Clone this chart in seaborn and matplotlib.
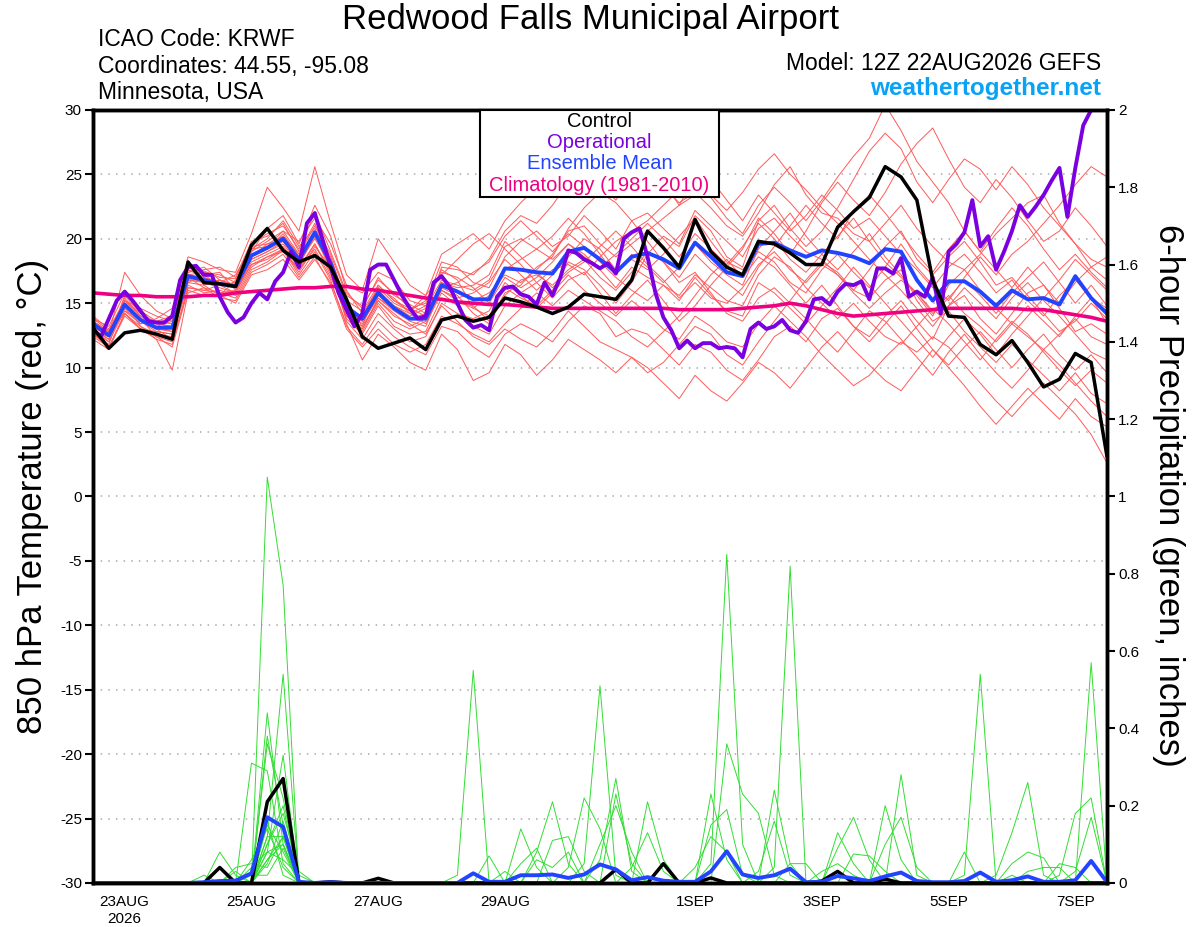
import pandas as pd
import numpy as np
import matplotlib
matplotlib.use("Agg")
import matplotlib.pyplot as plt
import seaborn as sns

# Run info
run_start = "2026-08-22 12:00"
tick_days = ["2026-08-23", "2026-08-25", "2026-08-27", "2026-08-29",
             "2026-09-01", "2026-09-03", "2026-09-05", "2026-09-07"]
tick_labels = ["23AUG\n2026", "25AUG", "27AUG", "29AUG", "1SEP", "3SEP", "5SEP", "7SEP"]
temp_ticks = [30, 25, 20, 15, 10, 5, 0, -5, -10, -15, -20, -25, -30]
precip_ticks = [0, 0.2, 0.4, 0.6, 0.8, 1.0, 1.2, 1.4, 1.6, 1.8, 2.0]
precip_tick_labels = ["0", "0.2", "0.4", "0.6", "0.8", "1", "1.2", "1.4", "1.6", "1.8", "2"]

# 850 hPa temperature (6-hourly)
control_t = [13.1, 11.5, 12.7, 12.9, 12.6, 12.2, 18.2, 16.6, 16.5, 16.3, 19.5, 20.8, 19.1,
             18.2, 18.7, 17.8, 15.3, 12.4, 11.5, 11.9, 12.3, 11.4, 13.7, 14.0, 13.6, 13.9,
             15.4, 15.1, 14.7, 14.2, 14.7, 15.7, 15.5, 15.3, 16.8, 20.6, 19.3, 17.8, 21.5,
             19.0, 17.8, 17.2, 19.8, 19.6, 18.9, 18.0, 18.0, 20.9, 22.1, 23.2, 25.6, 24.8,
             23.0, 16.8, 14.0, 13.9, 11.8, 11.0, 12.1, 10.4, 8.5, 9.1, 11.1, 10.4, 3.1]
mean_t = [13.4, 12.5, 14.9, 13.7, 13.1, 13.1, 17.1, 16.8, 16.5, 16.3, 18.7, 19.3, 20.0,
          18.4, 20.5, 18.1, 14.7, 13.8, 15.8, 14.6, 13.8, 13.8, 16.4, 15.9, 15.3, 15.3,
          17.7, 17.6, 17.4, 17.3, 19.0, 19.3, 18.4, 17.4, 18.6, 18.9, 18.4, 17.7, 19.7,
          18.6, 17.4, 17.1, 19.6, 19.7, 19.1, 18.6, 19.1, 18.9, 18.6, 18.1, 19.2, 19.0,
          16.8, 15.2, 16.7, 16.7, 15.9, 14.8, 16.0, 15.3, 15.4, 14.9, 17.1, 15.4, 14.2]
clim_t = [15.8, 15.7, 15.6, 15.6, 15.5, 15.5, 15.5, 15.6, 15.6, 15.8, 15.9, 16.0, 16.1,
          16.2, 16.2, 16.3, 16.3, 16.1, 16.0, 15.8, 15.6, 15.4, 15.3, 15.1, 15.0, 14.9,
          14.9, 14.8, 14.7, 14.6, 14.6, 14.6, 14.6, 14.6, 14.6, 14.6, 14.6, 14.5, 14.5,
          14.5, 14.5, 14.6, 14.7, 14.8, 15.0, 14.8, 14.5, 14.2, 14.0, 14.1, 14.2, 14.3,
          14.4, 14.5, 14.6, 14.6, 14.6, 14.6, 14.6, 14.5, 14.5, 14.3, 14.1, 13.9, 13.6]

# Operational run (3-hourly)
oper_t = [12.9, 12.4, 13.8, 15.2, 15.9, 15.2, 14.4, 13.6, 13.5, 13.5,
          14.0, 16.8, 17.8, 17.9, 17.2, 17.2, 15.5, 14.3, 13.5, 13.9,
          15.0, 15.8, 15.3, 16.7, 17.4, 19.0, 17.8, 21.2, 22.0, 19.9,
          17.8, 15.8, 14.5, 13.2, 14.2, 17.6, 18.0, 18.0, 16.8, 15.6,
          14.6, 13.8, 14.0, 16.6, 17.1, 16.3, 15.0, 13.7, 13.1, 13.3,
          12.9, 15.5, 16.2, 16.3, 15.7, 15.5, 14.9, 16.6, 15.6, 17.0,
          19.1, 18.9, 18.4, 18.1, 17.7, 18.1, 17.3, 20.0, 20.5, 20.8,
          18.6, 15.8, 13.9, 12.9, 11.5, 12.1, 11.5, 11.9, 11.9, 11.5,
          11.6, 11.5, 10.8, 13.0, 13.5, 13.0, 13.2, 13.7, 12.9, 12.7,
          13.6, 15.3, 15.4, 14.9, 15.9, 16.5, 16.4, 16.7, 15.3, 17.7,
          17.7, 17.3, 18.5, 15.5, 15.9, 15.5, 17.0, 14.2, 19.0, 19.6,
          20.5, 23.0, 19.4, 20.2, 17.6, 19.0, 20.6, 22.6, 21.7, 22.5,
          23.4, 24.5, 25.5, 21.7, 25.5, 28.8, 30.0, 31.0, 32.0]

# Ensemble members, temperature
t01 = [13.0, 12.2, 15.6, 14.2, 13.5, 13.8, 17.8, 17.5, 17.0, 16.9, 19.6, 20.4, 21.0,
       19.2, 22.0, 19.0, 15.8, 14.6, 17.0, 15.6, 14.9, 14.2, 17.8, 17.6, 17.2, 18.4,
       20.6, 21.8, 21.2, 22.6, 24.4, 25.0, 24.2, 23.0, 24.8, 25.6, 24.0, 22.8, 23.6,
       22.4, 21.0, 20.2, 22.0, 24.2, 25.6, 23.4, 22.0, 21.6, 20.4, 19.8, 21.2, 22.6,
       20.8, 19.4, 18.2, 17.6, 18.8, 20.4, 21.6, 22.8, 23.4, 21.2, 19.6, 18.4, 17.8]
t02 = [13.8, 12.9, 14.2, 13.0, 12.4, 12.0, 16.2, 16.0, 15.8, 15.4, 17.6, 18.2, 19.1,
       17.2, 19.0, 16.8, 13.2, 11.8, 13.6, 12.4, 11.6, 11.0, 13.2, 12.8, 11.6, 10.8,
       12.6, 13.4, 12.8, 12.0, 13.6, 14.8, 14.2, 12.4, 13.0, 12.6, 11.4, 10.2, 11.8,
       11.2, 9.8, 9.0, 10.6, 12.4, 13.2, 12.0, 13.8, 14.6, 13.2, 12.4, 14.0, 15.2,
       13.6, 12.2, 14.8, 15.6, 13.8, 12.6, 14.2, 15.8, 16.4, 14.6, 12.8, 13.4, 12.6]
t03 = [12.6, 11.8, 15.2, 14.6, 14.0, 13.6, 18.0, 16.4, 15.6, 16.8, 19.0, 19.8, 20.6,
       19.8, 21.6, 19.6, 16.4, 15.8, 17.4, 16.8, 15.2, 14.8, 17.6, 16.8, 14.6, 14.0,
       16.2, 15.4, 14.8, 16.0, 18.2, 17.6, 16.4, 15.0, 16.6, 18.8, 20.2, 19.4, 21.8,
       20.6, 18.6, 17.8, 21.4, 22.6, 20.8, 19.4, 20.6, 22.4, 24.6, 26.8, 28.2, 27.0,
       24.4, 22.8, 24.6, 26.2, 25.4, 23.8, 25.6, 24.2, 22.4, 21.0, 19.6, 17.8, 18.6]
t04 = [13.6, 12.8, 15.0, 13.2, 12.6, 12.4, 16.6, 17.2, 17.4, 16.0, 18.2, 18.8, 19.4,
       17.8, 19.6, 17.4, 13.8, 12.6, 14.8, 13.2, 12.6, 12.8, 15.4, 15.0, 14.8, 13.6,
       15.8, 16.4, 17.8, 18.6, 20.8, 22.4, 23.6, 22.8, 21.4, 19.8, 18.2, 16.6, 17.4,
       15.8, 14.2, 13.6, 15.4, 16.2, 15.0, 13.8, 12.4, 11.2, 12.8, 14.4, 13.6, 12.2,
       10.8, 9.4, 11.2, 12.6, 11.0, 9.6, 8.4, 9.8, 11.4, 10.2, 8.8, 7.4, 6.2]
t05 = [12.8, 12.0, 14.4, 13.4, 13.8, 14.6, 17.4, 17.8, 16.8, 16.4, 19.2, 20.0, 21.4,
       19.4, 20.8, 18.6, 15.0, 13.2, 16.4, 15.2, 14.4, 15.6, 17.2, 18.4, 19.6, 20.4,
       19.2, 18.0, 16.6, 15.4, 16.8, 17.4, 15.8, 14.2, 15.6, 16.8, 15.2, 13.6, 14.8,
       16.4, 17.8, 19.2, 21.6, 20.4, 18.8, 20.6, 22.8, 24.4, 23.0, 21.8, 23.6, 25.8,
       27.4, 28.6, 26.2, 24.0, 22.8, 24.6, 23.2, 21.4, 19.8, 20.6, 22.4, 21.0, 19.4]
t06 = [13.2, 12.4, 14.6, 13.8, 13.2, 12.8, 16.8, 16.6, 16.2, 15.8, 18.4, 19.0, 19.6,
       18.0, 20.2, 17.6, 14.2, 13.0, 15.2, 14.0, 13.4, 12.6, 14.8, 13.6, 12.4, 11.8,
       13.0, 12.2, 11.6, 12.8, 14.4, 13.2, 12.0, 11.4, 10.8, 9.6, 10.4, 11.8, 13.2,
       12.6, 11.0, 10.2, 12.0, 13.6, 15.2, 16.8, 18.2, 17.4, 16.0, 17.6, 19.4, 20.6,
       18.4, 17.2, 18.6, 19.8, 18.2, 16.4, 17.0, 15.6, 14.2, 12.8, 13.6, 15.0, 13.8]
t07 = [13.4, 12.6, 15.4, 14.0, 13.4, 13.2, 17.6, 17.0, 16.6, 17.2, 19.4, 19.6, 20.2,
       18.8, 21.0, 18.8, 15.6, 14.8, 16.8, 15.8, 14.6, 15.0, 18.2, 17.8, 16.6, 16.2,
       18.6, 19.8, 20.6, 19.4, 20.2, 21.8, 20.6, 19.2, 21.4, 22.0, 20.8, 19.6, 22.2,
       21.0, 19.8, 18.6, 20.8, 21.6, 20.2, 19.0, 18.4, 17.2, 16.0, 15.4, 16.8, 17.6,
       15.2, 13.6, 14.4, 12.8, 11.6, 10.4, 11.8, 10.6, 9.4, 8.2, 9.6, 8.0, 7.2]
t08 = [12.4, 11.6, 14.0, 13.0, 12.8, 12.6, 16.4, 15.8, 16.0, 15.6, 17.8, 18.6, 19.0,
       17.6, 19.2, 17.0, 14.4, 13.4, 15.6, 14.8, 14.0, 14.6, 16.8, 16.4, 16.0, 16.8,
       19.4, 20.0, 19.2, 18.4, 19.6, 18.8, 17.6, 16.2, 17.8, 17.0, 16.4, 15.2, 17.0,
       15.6, 14.4, 14.0, 16.6, 15.8, 14.6, 13.4, 14.8, 16.2, 17.8, 16.4, 15.0, 13.6,
       12.2, 10.8, 12.4, 13.8, 12.6, 11.0, 12.6, 14.0, 15.4, 16.8, 18.4, 17.2, 16.0]
t09 = [13.8, 13.2, 15.8, 14.4, 13.6, 13.4, 17.2, 17.4, 17.2, 16.6, 19.0, 20.8, 21.8,
       19.6, 22.6, 20.2, 16.0, 14.2, 16.2, 15.4, 14.2, 13.4, 15.8, 14.8, 13.2, 12.6,
       14.8, 15.8, 16.6, 17.6, 18.0, 17.2, 18.6, 19.8, 20.6, 21.4, 22.6, 23.8, 24.6,
       23.4, 22.2, 23.6, 25.4, 26.6, 25.0, 23.8, 22.4, 21.2, 19.8, 18.4, 17.2, 16.0,
       14.6, 13.2, 14.8, 16.2, 15.0, 13.8, 15.4, 16.6, 15.2, 14.0, 12.6, 11.2, 10.6]
t10 = [13.0, 12.2, 14.8, 13.6, 12.8, 12.6, 16.6, 16.4, 16.8, 16.2, 18.8, 19.2, 20.4,
       18.6, 20.6, 18.2, 14.6, 12.8, 15.0, 13.6, 13.0, 13.6, 16.0, 15.4, 15.8, 16.6,
       18.4, 17.2, 16.0, 17.2, 18.6, 20.0, 19.2, 17.6, 18.4, 17.6, 18.8, 20.2, 21.6,
       19.8, 18.2, 17.6, 19.0, 18.2, 16.6, 15.8, 17.6, 18.8, 17.4, 16.2, 17.8, 19.6,
       17.8, 16.4, 15.2, 17.0, 18.6, 17.2, 18.8, 19.8, 21.2, 22.6, 24.2, 25.6, 24.8]
t11 = [14.0, 13.0, 15.2, 14.0, 13.0, 12.2, 17.0, 16.2, 15.8, 16.0, 18.0, 18.4, 19.2,
       17.4, 19.4, 17.8, 13.6, 12.2, 14.2, 13.0, 12.0, 12.4, 15.0, 14.2, 13.8, 14.4,
       16.6, 15.6, 14.6, 15.8, 17.2, 16.0, 15.0, 14.0, 15.2, 14.2, 13.0, 12.2, 14.0,
       13.2, 12.0, 11.6, 13.4, 14.8, 13.6, 12.4, 11.0, 9.8, 8.6, 9.4, 10.8, 12.0,
       11.2, 12.4, 11.6, 10.2, 8.8, 7.4, 6.2, 7.6, 8.8, 7.6, 6.4, 4.8, 2.6]
t12 = [13.6, 12.8, 14.6, 13.4, 13.6, 14.0, 17.6, 17.2, 16.4, 16.6, 19.2, 19.4, 20.6,
       18.8, 20.4, 18.4, 15.2, 14.4, 16.4, 15.2, 14.6, 14.0, 16.6, 16.0, 15.2, 15.8,
       17.2, 16.6, 17.6, 18.8, 20.6, 21.0, 19.6, 18.6, 19.6, 20.6, 21.6, 22.6, 23.4,
       24.6, 23.0, 21.4, 23.4, 22.0, 20.6, 21.8, 23.4, 22.2, 20.8, 21.6, 20.2, 18.8,
       17.6, 16.2, 17.8, 18.8, 17.4, 15.8, 16.8, 15.2, 14.0, 15.6, 16.8, 15.4, 14.6]
t13 = [12.2, 11.4, 14.2, 13.2, 12.2, 9.8, 15.8, 16.2, 15.4, 15.2, 17.4, 18.0, 18.8,
       17.0, 18.6, 16.4, 13.0, 11.6, 13.0, 11.8, 11.2, 11.8, 14.0, 13.4, 12.6, 12.0,
       13.4, 14.6, 15.8, 14.8, 16.0, 15.2, 14.4, 13.6, 12.4, 11.6, 12.8, 14.0, 15.6,
       17.2, 18.4, 17.0, 18.6, 17.8, 16.4, 15.0, 16.4, 14.8, 13.2, 12.0, 13.4, 14.8,
       13.0, 11.4, 10.2, 11.6, 12.8, 11.4, 10.0, 11.4, 12.6, 11.0, 9.8, 11.0, 9.6]
t14 = [13.2, 12.6, 17.4, 15.6, 14.4, 13.8, 18.6, 18.2, 17.6, 17.4, 20.4, 24.0, 22.4,
       20.6, 25.6, 21.2, 17.2, 16.0, 20.0, 18.2, 16.4, 15.6, 18.8, 19.6, 20.4, 19.2,
       21.4, 22.8, 24.0, 24.8, 26.2, 27.4, 28.6, 29.4, 27.6, 26.0, 24.4, 22.6, 24.8,
       23.2, 21.6, 20.4, 22.6, 24.0, 22.8, 21.4, 23.0, 24.8, 26.4, 27.8, 30.4, 28.4,
       26.0, 24.4, 22.8, 20.6, 19.0, 20.8, 22.4, 21.0, 19.2, 17.6, 18.8, 17.4, 16.2]
t15 = [12.8, 12.4, 14.4, 13.8, 12.4, 11.6, 16.0, 15.6, 15.6, 15.0, 17.2, 17.6, 18.4,
       16.8, 18.4, 16.6, 13.4, 10.6, 12.6, 11.6, 10.4, 9.8, 12.6, 11.4, 9.0, 9.6,
       11.8, 11.0, 9.4, 10.6, 12.2, 11.4, 10.6, 9.6, 10.8, 10.0, 8.8, 7.6, 9.4,
       8.2, 7.4, 8.8, 10.4, 9.6, 8.4, 10.0, 11.6, 12.8, 11.4, 10.2, 9.0, 8.2,
       9.8, 11.4, 10.0, 8.6, 7.0, 5.6, 7.0, 8.4, 7.2, 6.0, 7.6, 6.2, 5.4]
t16 = [13.6, 12.6, 15.0, 13.6, 13.0, 12.8, 17.4, 17.6, 17.8, 17.0, 19.8, 20.2, 21.2,
       19.0, 21.2, 18.2, 14.8, 13.6, 15.4, 14.4, 13.6, 13.2, 16.2, 15.6, 14.2, 13.4,
       15.6, 16.8, 17.2, 16.4, 17.6, 18.4, 17.0, 16.0, 17.4, 19.0, 18.2, 17.0, 18.8,
       17.6, 16.6, 15.6, 17.8, 19.4, 21.0, 22.6, 21.2, 20.0, 22.2, 23.4, 22.0, 20.4,
       18.8, 17.4, 19.2, 20.6, 19.0, 17.6, 16.2, 17.8, 16.4, 15.0, 16.6, 17.8, 16.8]
t17 = [13.0, 12.0, 14.8, 13.6, 13.2, 13.6, 16.8, 16.8, 16.4, 16.6, 18.6, 19.6, 19.8,
       18.2, 20.0, 18.0, 14.0, 13.0, 15.4, 14.6, 13.8, 14.2, 16.6, 16.2, 16.4, 17.2,
       19.8, 18.6, 17.4, 16.2, 17.4, 18.2, 19.4, 20.6, 19.4, 18.0, 16.8, 15.4, 16.6,
       15.4, 15.0, 16.2, 18.0, 19.0, 17.6, 16.6, 18.0, 17.2, 15.8, 14.6, 15.8, 16.8,
       15.8, 14.4, 15.6, 14.2, 13.2, 12.0, 13.4, 12.4, 11.4, 12.6, 13.8, 12.4, 11.8]
t18 = [13.4, 12.8, 15.2, 14.2, 13.4, 13.2, 17.0, 16.6, 16.8, 16.4, 18.4, 19.0, 19.8,
       18.0, 20.2, 18.4, 14.4, 13.6, 16.0, 14.8, 14.2, 14.8, 16.0, 15.2, 14.6, 15.6,
       17.6, 18.4, 19.2, 20.2, 21.6, 20.4, 18.8, 17.2, 18.8, 17.8, 16.6, 17.8, 19.6,
       18.2, 17.2, 16.4, 19.2, 20.6, 22.0, 20.2, 18.8, 17.6, 19.0, 20.4, 18.6, 17.2,
       15.6, 14.0, 16.4, 17.6, 16.0, 14.6, 13.4, 14.8, 13.6, 12.4, 14.0, 15.4, 13.4]
t19 = [12.6, 11.6, 14.2, 13.0, 12.2, 11.8, 16.2, 16.0, 16.4, 15.8, 18.0, 18.6, 19.2,
       17.6, 19.6, 17.2, 14.0, 13.2, 15.2, 14.2, 13.2, 13.8, 16.2, 16.6, 17.4, 18.2,
       20.2, 21.4, 20.2, 19.0, 20.4, 19.4, 18.2, 17.0, 16.0, 15.2, 16.4, 15.6, 17.2,
       16.2, 15.2, 14.8, 17.2, 18.6, 17.8, 16.2, 15.0, 13.8, 15.0, 13.6, 12.4, 11.8,
       13.2, 14.6, 13.4, 12.0, 10.6, 12.2, 13.6, 12.6, 11.2, 9.8, 8.6, 9.8, 8.8]
t20 = [13.2, 12.4, 15.0, 13.8, 13.0, 13.0, 17.2, 17.0, 16.6, 16.2, 18.6, 19.2, 20.2,
       18.4, 20.6, 18.0, 14.6, 14.0, 16.2, 15.0, 14.4, 15.2, 17.4, 17.0, 16.2, 15.0,
       17.0, 16.2, 17.0, 18.2, 19.6, 18.6, 17.8, 18.8, 20.0, 21.2, 20.0, 18.6, 20.4,
       19.2, 18.0, 19.4, 21.2, 20.0, 18.4, 17.4, 18.8, 20.2, 21.6, 19.8, 18.2, 17.0,
       15.8, 14.2, 15.4, 16.8, 15.6, 14.2, 15.8, 17.0, 18.2, 16.6, 15.0, 16.4, 14.8]

# 6-hour precipitation (inches)
control_p = [0, 0, 0, 0, 0, 0, 0, 0, 0.04, 0, 0, 0.21, 0.27,
             0, 0, 0.003, 0, 0, 0.012, 0, 0, 0, 0, 0, 0, 0,
             0, 0, 0, 0, 0, 0, 0, 0.035, 0, 0, 0.05, 0, 0,
             0.013, 0, 0, 0, 0, 0, 0, 0.005, 0.03, 0, 0, 0.01, 0,
             0, 0, 0, 0, 0, 0, 0, 0, 0, 0, 0, 0, 0]
mean_p = [0, 0, 0, 0, 0, 0, 0, 0.002, 0.005, 0.006, 0.025, 0.17, 0.145,
          0.003, 0, 0.002, 0, 0, 0, 0, 0, 0, 0, 0, 0.025, 0.003,
          0.003, 0.02, 0.02, 0.022, 0.013, 0.022, 0.048, 0.035, 0.007, 0.015, 0.006, 0.003, 0.003,
          0.03, 0.082, 0.022, 0.013, 0.02, 0.037, 0.002, 0.003, 0.018, 0.012, 0.005, 0.017, 0.027,
          0.005, 0.002, 0.002, 0.005, 0.027, 0.003, 0.007, 0.017, 0.003, 0.003, 0.007, 0.057, 0.002]

p01 = [0, 0, 0, 0, 0, 0, 0, 0, 0, 0, 0, 1.05, 0.77,
       0, 0, 0, 0, 0, 0, 0, 0, 0, 0, 0, 0, 0,
       0, 0, 0, 0, 0, 0, 0, 0, 0, 0, 0, 0, 0,
       0.05, 0.85, 0.10, 0, 0, 0, 0, 0, 0, 0, 0, 0, 0,
       0, 0, 0, 0, 0, 0, 0, 0, 0, 0, 0, 0.57, 0]
p02 = [0, 0, 0, 0, 0, 0, 0, 0, 0, 0, 0, 0.12, 0.54,
       0, 0, 0, 0, 0, 0, 0, 0, 0, 0, 0, 0, 0,
       0, 0.14, 0.04, 0, 0, 0, 0, 0, 0, 0, 0, 0, 0,
       0.23, 0.06, 0, 0, 0, 0, 0, 0, 0, 0, 0, 0, 0,
       0, 0, 0, 0, 0, 0, 0, 0, 0, 0, 0.03, 0.17, 0]
p03 = [0, 0, 0, 0, 0, 0, 0, 0, 0, 0, 0, 0.44, 0.10,
       0, 0, 0, 0, 0, 0, 0, 0, 0, 0, 0.02, 0.55, 0,
       0, 0, 0, 0, 0, 0, 0, 0, 0, 0, 0, 0, 0,
       0.15, 0.19, 0.02, 0, 0, 0, 0, 0, 0, 0, 0, 0, 0,
       0, 0, 0, 0, 0, 0, 0, 0, 0, 0, 0, 0, 0]
p04 = [0, 0, 0, 0, 0, 0, 0, 0, 0, 0, 0.31, 0.29, 0.05,
       0, 0, 0, 0, 0, 0, 0, 0, 0, 0, 0, 0, 0,
       0, 0, 0.08, 0.21, 0.05, 0, 0, 0, 0, 0, 0, 0, 0,
       0, 0, 0, 0, 0, 0, 0, 0, 0, 0, 0, 0, 0,
       0, 0, 0, 0, 0, 0, 0.02, 0, 0, 0.05, 0.04, 0, 0]
p05 = [0, 0, 0, 0, 0, 0, 0, 0, 0, 0, 0, 0.08, 0.33,
       0, 0, 0, 0, 0, 0, 0, 0, 0, 0, 0, 0, 0,
       0.03, 0, 0, 0, 0, 0, 0, 0, 0, 0, 0, 0, 0,
       0, 0.36, 0.23, 0.18, 0.02, 0, 0, 0, 0, 0, 0, 0, 0,
       0, 0, 0, 0, 0, 0, 0, 0, 0, 0, 0, 0, 0]
p06 = [0, 0, 0, 0, 0, 0, 0, 0, 0, 0, 0, 0.38, 0.15,
       0, 0, 0, 0, 0, 0, 0, 0, 0, 0, 0, 0, 0,
       0, 0, 0, 0.11, 0.12, 0.03, 0, 0, 0, 0, 0, 0, 0,
       0, 0, 0, 0, 0, 0, 0, 0, 0.13, 0.05, 0, 0, 0,
       0, 0, 0, 0, 0, 0, 0, 0, 0, 0, 0, 0, 0]
p07 = [0, 0, 0, 0, 0, 0, 0, 0, 0, 0, 0, 0.36, 0.22,
       0, 0, 0, 0, 0, 0, 0, 0, 0, 0, 0, 0, 0,
       0, 0, 0, 0, 0.04, 0.22, 0.14, 0, 0, 0, 0, 0, 0,
       0, 0, 0, 0, 0, 0, 0, 0, 0.09, 0.17, 0.06, 0, 0,
       0, 0, 0, 0, 0, 0, 0, 0, 0, 0, 0, 0, 0]
p08 = [0, 0, 0, 0, 0, 0, 0, 0, 0.08, 0.02, 0, 0.12, 0.12,
       0, 0, 0, 0, 0, 0, 0, 0, 0, 0, 0, 0, 0.07,
       0, 0, 0, 0, 0, 0, 0, 0, 0, 0, 0, 0, 0,
       0, 0, 0, 0.03, 0.16, 0.02, 0, 0, 0, 0, 0, 0, 0,
       0, 0, 0, 0, 0, 0, 0, 0, 0, 0, 0, 0, 0]
p09 = [0, 0, 0, 0, 0, 0, 0, 0.02, 0, 0.04, 0.05, 0.04, 0.12,
       0, 0, 0, 0, 0, 0, 0, 0, 0, 0, 0, 0, 0,
       0, 0, 0, 0, 0, 0.05, 0.51, 0.02, 0, 0, 0, 0, 0,
       0, 0, 0, 0, 0, 0, 0, 0, 0, 0.075, 0.07, 0.03, 0,
       0, 0, 0, 0, 0, 0, 0, 0, 0, 0, 0, 0, 0]
p10 = [0, 0, 0, 0, 0, 0, 0, 0, 0, 0, 0, 0.10, 0.18,
       0.03, 0, 0, 0, 0, 0, 0, 0, 0, 0, 0, 0, 0,
       0, 0, 0, 0, 0, 0, 0.06, 0.27, 0.03, 0, 0, 0, 0,
       0, 0, 0, 0, 0, 0, 0, 0, 0, 0, 0, 0.20, 0.06,
       0, 0, 0, 0, 0, 0, 0, 0, 0, 0, 0, 0, 0]
p11 = [0, 0, 0, 0, 0, 0, 0, 0, 0, 0, 0, 0.15, 0.08,
       0, 0, 0, 0, 0, 0, 0, 0, 0, 0, 0, 0, 0,
       0, 0, 0, 0, 0, 0, 0, 0.23, 0.05, 0, 0, 0, 0,
       0, 0, 0, 0, 0, 0, 0, 0, 0, 0, 0, 0.10, 0.17,
       0.04, 0, 0, 0, 0, 0, 0, 0, 0, 0, 0, 0, 0]
p12 = [0, 0, 0, 0, 0, 0, 0, 0, 0, 0, 0.06, 0.14, 0.04,
       0, 0, 0, 0, 0, 0, 0, 0, 0, 0, 0, 0, 0,
       0, 0, 0, 0, 0, 0, 0.10, 0.20, 0.08, 0, 0, 0, 0,
       0, 0, 0, 0, 0, 0, 0, 0, 0, 0, 0, 0, 0.28,
       0.02, 0, 0, 0, 0, 0, 0, 0, 0, 0, 0, 0, 0]
p13 = [0, 0, 0, 0, 0, 0, 0, 0, 0, 0, 0, 0.10, 0.20,
       0, 0, 0, 0, 0, 0, 0, 0, 0, 0, 0, 0, 0,
       0, 0, 0, 0, 0, 0, 0, 0, 0, 0.21, 0.06, 0, 0,
       0, 0, 0, 0, 0, 0, 0, 0.03, 0.05, 0.02, 0, 0, 0,
       0, 0, 0, 0, 0, 0, 0, 0, 0, 0, 0, 0, 0]
p14 = [0, 0, 0, 0, 0, 0, 0, 0, 0, 0, 0, 0.08, 0.06,
       0.02, 0, 0, 0, 0, 0, 0, 0, 0, 0, 0, 0, 0,
       0, 0, 0, 0, 0, 0, 0, 0, 0.04, 0.13, 0.03, 0, 0,
       0, 0, 0, 0, 0, 0, 0, 0, 0, 0, 0, 0, 0,
       0, 0, 0, 0.08, 0, 0, 0, 0, 0, 0, 0, 0, 0]
p15 = [0, 0, 0, 0, 0, 0, 0, 0, 0, 0.03, 0, 0.05, 0.16,
       0, 0, 0, 0, 0, 0, 0, 0, 0, 0, 0, 0, 0,
       0, 0, 0.06, 0.04, 0.08, 0, 0, 0, 0, 0, 0, 0, 0,
       0, 0, 0, 0, 0, 0, 0, 0, 0, 0, 0, 0, 0,
       0, 0, 0, 0.02, 0.54, 0, 0, 0, 0, 0, 0, 0, 0]
p16 = [0, 0, 0, 0, 0, 0, 0, 0, 0, 0, 0, 0.06, 0.10,
       0, 0, 0, 0, 0, 0, 0, 0, 0, 0, 0, 0, 0,
       0, 0.05, 0.09, 0, 0, 0, 0, 0, 0, 0, 0, 0, 0,
       0, 0, 0, 0, 0, 0, 0, 0, 0, 0, 0, 0, 0,
       0, 0, 0, 0, 0, 0.02, 0.13, 0.26, 0.02, 0, 0, 0, 0]
p17 = [0, 0, 0, 0, 0, 0, 0, 0, 0, 0, 0.02, 0.02, 0.09,
       0, 0, 0, 0, 0, 0, 0, 0, 0, 0, 0, 0, 0,
       0, 0, 0, 0, 0, 0, 0, 0, 0, 0, 0, 0, 0,
       0, 0, 0, 0, 0.24, 0.05, 0, 0, 0, 0, 0, 0, 0,
       0, 0, 0, 0, 0, 0, 0.05, 0.08, 0.065, 0, 0, 0, 0]
p18 = [0, 0, 0, 0, 0, 0, 0, 0, 0, 0, 0, 0.16, 0.02,
       0, 0, 0, 0, 0, 0, 0, 0, 0, 0, 0, 0, 0,
       0, 0, 0, 0, 0, 0, 0, 0, 0, 0, 0, 0, 0,
       0, 0, 0, 0, 0.04, 0.82, 0, 0, 0, 0, 0, 0, 0,
       0, 0, 0, 0, 0, 0, 0, 0, 0, 0, 0, 0, 0]
p19 = [0, 0, 0, 0, 0, 0, 0, 0, 0, 0, 0, 0.06, 0.12,
       0, 0, 0, 0, 0, 0, 0, 0, 0, 0, 0, 0, 0,
       0, 0, 0, 0, 0, 0, 0, 0, 0, 0, 0, 0, 0,
       0, 0, 0, 0, 0, 0.05, 0.05, 0, 0, 0, 0, 0, 0,
       0, 0, 0, 0, 0, 0, 0, 0.03, 0.04, 0.04, 0, 0, 0]
p20 = [0, 0, 0, 0, 0, 0, 0, 0, 0, 0, 0.04, 0.08, 0.10,
       0, 0, 0, 0, 0, 0, 0, 0, 0, 0, 0, 0, 0,
       0, 0, 0, 0, 0, 0, 0, 0, 0, 0, 0, 0, 0.04,
       0.12, 0.08, 0, 0, 0, 0, 0, 0, 0, 0, 0, 0, 0,
       0, 0, 0, 0, 0, 0, 0, 0, 0, 0.02, 0.18, 0.22, 0]

temp_members = [t01, t02, t03, t04, t05, t06, t07, t08, t09, t10,
                t11, t12, t13, t14, t15, t16, t17, t18, t19, t20]
precip_members = [p01, p02, p03, p04, p05, p06, p07, p08, p09, p10,
                  p11, p12, p13, p14, p15, p16, p17, p18, p19, p20]

# Build tables
times = pd.date_range(run_start, periods=len(mean_t), freq="6h")
oper_times = pd.date_range(run_start, periods=len(oper_t), freq="3h")

df_tm = pd.concat([pd.DataFrame({"time": times, "value": m, "member": k})
                   for k, m in enumerate(temp_members)], ignore_index=True)
df_pm = pd.concat([pd.DataFrame({"time": times, "value": m, "member": k})
                   for k, m in enumerate(precip_members)], ignore_index=True)
df_main = pd.DataFrame({"time": times, "control": control_t, "mean": mean_t,
                        "clim": clim_t, "control_p": control_p, "mean_p": mean_p})
df_oper = pd.DataFrame({"time": oper_times, "oper": oper_t})

# Style
sns.set_style("white")
plt.rcParams["font.family"] = ["Liberation Sans", "DejaVu Sans"]
plt.rcParams["axes.unicode_minus"] = False
for key in ["text.color", "axes.labelcolor", "xtick.color", "ytick.color", "axes.edgecolor"]:
    plt.rcParams[key] = "black"

red = "#ff5a5a"
green = "#33dd33"
purple = "#7a00e0"
blue = "#2244ff"
pink = "#ee0080"

fig = plt.figure(figsize=(12, 9.27), dpi=100)
ax = fig.add_axes([0.0775, 0.0475, 0.845, 0.8339])
ax2 = ax.twinx()

# Temperature
sns.lineplot(data=df_tm, x="time", y="value", units="member", estimator=None,
             color=red, lw=0.7, ax=ax, legend=False)
sns.lineplot(data=df_main, x="time", y="clim", color=pink, lw=2.6, ax=ax)
sns.lineplot(data=df_main, x="time", y="mean", color=blue, lw=2.8, ax=ax)
sns.lineplot(data=df_oper, x="time", y="oper", color=purple, lw=2.8, ax=ax)
sns.lineplot(data=df_main, x="time", y="control", color="black", lw=2.5, ax=ax)

# Precipitation
sns.lineplot(data=df_pm, x="time", y="value", units="member", estimator=None,
             color=green, lw=0.7, ax=ax2, legend=False)
sns.lineplot(data=df_main, x="time", y="control_p", color="black", lw=2.5, ax=ax2)
sns.lineplot(data=df_main, x="time", y="mean_p", color=blue, lw=2.8, ax=ax2)

ax.set_xlim(times[0], times[-1])
ax.set_ylim(-30, 30)
ax2.set_ylim(0, 2)

ax.set_yticks(temp_ticks)
ax.set_yticklabels([str(v) for v in temp_ticks])
ax.yaxis.grid(True, color="#aaaaaa", linestyle=(0, (1, 4)), lw=1.1)
ax2.set_yticks(precip_ticks)
ax2.set_yticklabels(precip_tick_labels)
ax.set_xticks(pd.to_datetime(tick_days))
ax.set_xticklabels(tick_labels)

for a in (ax, ax2):
    a.set_xlabel("")
    a.set_ylabel("")
    for s in a.spines.values():
        s.set_linewidth(2.5)
        s.set_color("black")
ax.tick_params(axis="y", direction="out", length=6, width=1.5, labelsize=11, pad=2)
ax.tick_params(axis="x", direction="out", length=6, width=1.5, labelsize=11, pad=3)
ax2.tick_params(axis="y", direction="out", length=6, width=1.5, labelsize=11, pad=2)

# Axis titles
fig.text(33 / 1200, 1 - 496 / 927, "850 hPa Temperature (red, °C)", rotation=90,
         ha="center", va="center", fontsize=25)
fig.text(1168 / 1200, 1 - 495 / 927, "6-hour Precipitation (green, inches)", rotation=-90,
         ha="center", va="center", fontsize=25)

# Header
fig.text(590 / 1200, 1 - 19 / 927, "Redwood Falls Municipal Airport",
         ha="center", va="center", fontsize=25)
fig.text(98 / 1200, 1 - 40 / 927, "ICAO Code: KRWF", ha="left", va="center", fontsize=16.5)
fig.text(98 / 1200, 1 - 66 / 927, "Coordinates: 44.55, -95.08", ha="left", va="center", fontsize=16.5)
fig.text(98 / 1200, 1 - 93 / 927, "Minnesota, USA", ha="left", va="center", fontsize=16.5)
fig.text(1101 / 1200, 1 - 63 / 927, "Model: 12Z 22AUG2026 GEFS", ha="right", va="center", fontsize=16.5)
fig.text(1101 / 1200, 1 - 89 / 927, "weathertogether.net", ha="right", va="center",
         fontsize=17.5, fontweight="bold", color="#0aa2f5")

# Legend box
lg = fig.add_axes([480 / 1200, 1 - 197 / 927, 239 / 1200, 87 / 927])
lg.set_xticks([])
lg.set_yticks([])
lg.set_facecolor("white")
for s in lg.spines.values():
    s.set_linewidth(1.5)
legend_items = [("Control", "black"), ("Operational", purple),
                ("Ensemble Mean", blue), ("Climatology (1981-2010)", pink)]
for k, (name, col) in enumerate(legend_items):
    lg.text(0.5, 0.87 - k * 0.245, name, color=col, ha="center", va="center",
            fontsize=14.5, transform=lg.transAxes)

fig.savefig("out.png", dpi=100)
